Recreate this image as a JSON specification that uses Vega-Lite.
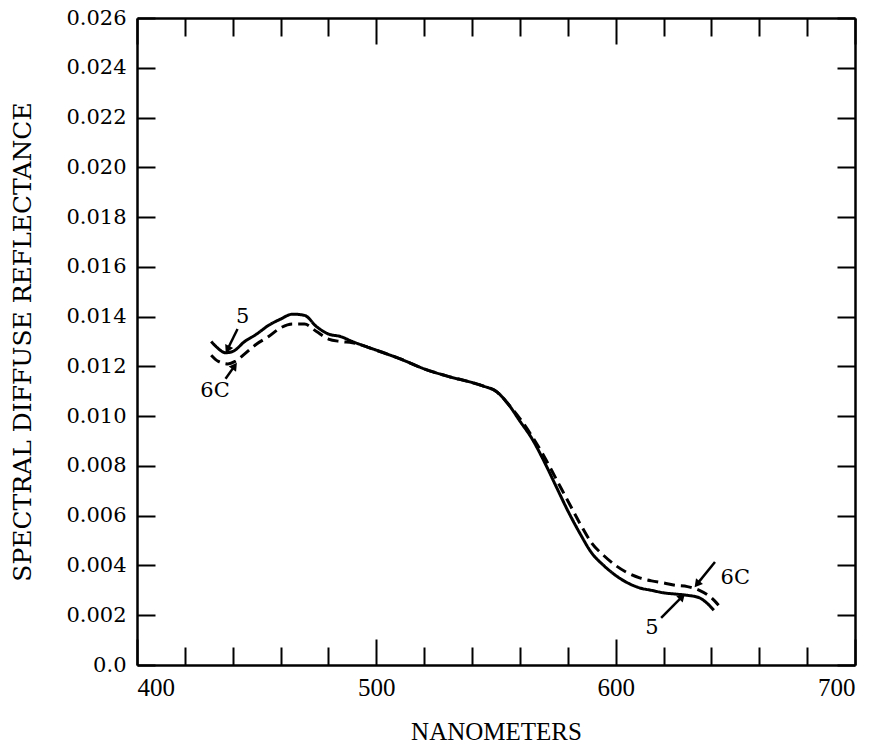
{
  "$schema": "https://vega.github.io/schema/vega-lite/v6.json",
  "width": 718,
  "height": 647,
  "autosize": {"type": "none"},
  "padding": {"left": 137, "top": 18, "right": 30, "bottom": 84},
  "background": "white",
  "config": {
    "view": {"stroke": null},
    "font": "DejaVu Serif",
    "axis": {"domainColor": "black", "domainWidth": 2.5, "tickColor": "black", "tickWidth": 2, "labelColor": "black", "titleColor": "black", "labelFont": "DejaVu Serif", "titleFont": "DejaVu Serif", "titleFontWeight": "normal", "grid": false}
  },
  "datasets": {
    "curves": [
      {"nm": 431, "r": 0.0130, "sample": "5"},
      {"nm": 433, "r": 0.0128, "sample": "5"},
      {"nm": 437, "r": 0.01255, "sample": "5"},
      {"nm": 440, "r": 0.0126, "sample": "5"},
      {"nm": 445, "r": 0.0130, "sample": "5"},
      {"nm": 450, "r": 0.0133, "sample": "5"},
      {"nm": 455, "r": 0.01365, "sample": "5"},
      {"nm": 460, "r": 0.0139, "sample": "5"},
      {"nm": 465, "r": 0.0141, "sample": "5"},
      {"nm": 470, "r": 0.01405, "sample": "5"},
      {"nm": 475, "r": 0.0136, "sample": "5"},
      {"nm": 480, "r": 0.0133, "sample": "5"},
      {"nm": 485, "r": 0.0132, "sample": "5"},
      {"nm": 490, "r": 0.0130, "sample": "5"},
      {"nm": 500, "r": 0.01265, "sample": "5"},
      {"nm": 510, "r": 0.0123, "sample": "5"},
      {"nm": 520, "r": 0.0119, "sample": "5"},
      {"nm": 530, "r": 0.0116, "sample": "5"},
      {"nm": 540, "r": 0.01135, "sample": "5"},
      {"nm": 545, "r": 0.0112, "sample": "5"},
      {"nm": 550, "r": 0.0110, "sample": "5"},
      {"nm": 555, "r": 0.0105, "sample": "5"},
      {"nm": 560, "r": 0.0098, "sample": "5"},
      {"nm": 565, "r": 0.0091, "sample": "5"},
      {"nm": 570, "r": 0.0082, "sample": "5"},
      {"nm": 575, "r": 0.0072, "sample": "5"},
      {"nm": 580, "r": 0.0062, "sample": "5"},
      {"nm": 585, "r": 0.0053, "sample": "5"},
      {"nm": 590, "r": 0.0045, "sample": "5"},
      {"nm": 595, "r": 0.0040, "sample": "5"},
      {"nm": 600, "r": 0.0036, "sample": "5"},
      {"nm": 605, "r": 0.0033, "sample": "5"},
      {"nm": 610, "r": 0.0031, "sample": "5"},
      {"nm": 615, "r": 0.0030, "sample": "5"},
      {"nm": 620, "r": 0.0029, "sample": "5"},
      {"nm": 625, "r": 0.00285, "sample": "5"},
      {"nm": 630, "r": 0.0028, "sample": "5"},
      {"nm": 635, "r": 0.0027, "sample": "5"},
      {"nm": 638, "r": 0.0025, "sample": "5"},
      {"nm": 641, "r": 0.0022, "sample": "5"},
      {"nm": 431, "r": 0.01245, "sample": "6C"},
      {"nm": 434, "r": 0.0122, "sample": "6C"},
      {"nm": 438, "r": 0.0121, "sample": "6C"},
      {"nm": 441, "r": 0.0122, "sample": "6C"},
      {"nm": 445, "r": 0.0125, "sample": "6C"},
      {"nm": 450, "r": 0.0129, "sample": "6C"},
      {"nm": 455, "r": 0.0132, "sample": "6C"},
      {"nm": 460, "r": 0.01355, "sample": "6C"},
      {"nm": 465, "r": 0.0137, "sample": "6C"},
      {"nm": 470, "r": 0.0137, "sample": "6C"},
      {"nm": 475, "r": 0.0134, "sample": "6C"},
      {"nm": 480, "r": 0.0131, "sample": "6C"},
      {"nm": 485, "r": 0.0130, "sample": "6C"},
      {"nm": 490, "r": 0.01295, "sample": "6C"},
      {"nm": 500, "r": 0.01265, "sample": "6C"},
      {"nm": 510, "r": 0.0123, "sample": "6C"},
      {"nm": 520, "r": 0.0119, "sample": "6C"},
      {"nm": 530, "r": 0.0116, "sample": "6C"},
      {"nm": 540, "r": 0.01135, "sample": "6C"},
      {"nm": 545, "r": 0.0112, "sample": "6C"},
      {"nm": 550, "r": 0.0110, "sample": "6C"},
      {"nm": 555, "r": 0.0105, "sample": "6C"},
      {"nm": 560, "r": 0.0099, "sample": "6C"},
      {"nm": 565, "r": 0.0092, "sample": "6C"},
      {"nm": 570, "r": 0.0084, "sample": "6C"},
      {"nm": 575, "r": 0.0075, "sample": "6C"},
      {"nm": 580, "r": 0.0066, "sample": "6C"},
      {"nm": 585, "r": 0.0057, "sample": "6C"},
      {"nm": 590, "r": 0.0049, "sample": "6C"},
      {"nm": 595, "r": 0.0044, "sample": "6C"},
      {"nm": 600, "r": 0.0040, "sample": "6C"},
      {"nm": 605, "r": 0.0037, "sample": "6C"},
      {"nm": 610, "r": 0.0035, "sample": "6C"},
      {"nm": 615, "r": 0.00338, "sample": "6C"},
      {"nm": 620, "r": 0.0033, "sample": "6C"},
      {"nm": 625, "r": 0.0032, "sample": "6C"},
      {"nm": 630, "r": 0.00315, "sample": "6C"},
      {"nm": 635, "r": 0.0030, "sample": "6C"},
      {"nm": 640, "r": 0.0027, "sample": "6C"},
      {"nm": 643, "r": 0.0024, "sample": "6C"}
    ],
    "arrows": [
      {"x": 442.0, "y": 0.01350, "x2": 437.8, "y2": 0.01268},
      {"x": 437.0, "y": 0.01150, "x2": 440.8, "y2": 0.01202},
      {"x": 641.5, "y": 0.00414, "x2": 634.0, "y2": 0.00325},
      {"x": 619.0, "y": 0.00189, "x2": 627.8, "y2": 0.00275}
    ],
    "labels": [
      {"x": 444.2, "y": 0.01400, "text": "5"},
      {"x": 432.6, "y": 0.01100, "text": "6C"},
      {"x": 650.0, "y": 0.00350, "text": "6C"},
      {"x": 615.2, "y": 0.00150, "text": "5"}
    ]
  },
  "resolve": {"axis": {"x": "independent", "y": "independent"}},
  "layer": [
    {
      "data": {"name": "curves"},
      "mark": {"type": "line", "interpolate": "monotone", "strokeWidth": 3, "color": "black"},
      "encoding": {
        "x": {"field": "nm", "type": "quantitative", "scale": {"domain": [400, 700], "nice": false},
          "axis": {"orient": "bottom", "title": "NANOMETERS", "titleFont": "Liberation Serif", "titleFontSize": 25, "titlePadding": 19,
            "values": [400, 420, 440, 460, 480, 500, 520, 540, 560, 580, 600, 620, 640, 660, 680, 700],
            "labelExpr": "datum.value % 100 === 0 ? datum.label : ''", "labelFont": "Liberation Serif", "labelFontSize": 25, "labelPadding": 36,
            "tickSize": {"condition": {"test": "datum.value % 100 === 0", "value": -26}, "value": -18}}},
        "y": {"field": "r", "type": "quantitative", "scale": {"domain": [0, 0.026], "nice": false},
          "axis": {"orient": "left", "title": "SPECTRAL DIFFUSE REFLECTANCE", "titleFontSize": 25, "titlePadding": 30,
            "values": [0, 0.002, 0.004, 0.006, 0.008, 0.01, 0.012, 0.014, 0.016, 0.018, 0.02, 0.022, 0.024, 0.026],
            "labelExpr": "datum.value === 0 ? '0.0' : format(datum.value, '.3f')", "labelFontSize": 21, "labelPadding": 29,
            "tickSize": -18}},
        "detail": {"field": "sample"},
        "strokeDash": {"field": "sample", "type": "nominal", "scale": {"domain": ["5", "6C"], "range": [[1, 0], [11, 6]]}, "legend": null}
      }
    },
    {
      "data": {"name": "arrows"},
      "mark": {"type": "rule", "strokeWidth": 2.5, "color": "black"},
      "encoding": {
        "x": {"field": "x", "type": "quantitative",
          "axis": {"orient": "top", "title": null, "labels": false,
            "values": [400, 420, 440, 460, 480, 500, 520, 540, 560, 580, 600, 620, 640, 660, 680, 700],
            "tickSize": {"condition": {"test": "datum.value % 100 === 0", "value": -26}, "value": -18}}},
        "y": {"field": "y", "type": "quantitative",
          "axis": {"orient": "right", "title": null, "labels": false,
            "values": [0, 0.002, 0.004, 0.006, 0.008, 0.01, 0.012, 0.014, 0.016, 0.018, 0.02, 0.022, 0.024, 0.026],
            "tickSize": -18}},
        "x2": {"field": "x2"},
        "y2": {"field": "y2"}
      }
    },
    {
      "data": {"name": "arrows"},
      "transform": [{"calculate": "atan2((datum.x2 - datum.x) * 2.393, (datum.y2 - datum.y) * 24880) * 180 / PI", "as": "ang"}],
      "mark": {"type": "point", "shape": "triangle-up", "filled": true, "color": "black", "size": 80, "opacity": 1},
      "encoding": {
        "x": {"field": "x2", "type": "quantitative", "axis": null},
        "y": {"field": "y2", "type": "quantitative", "axis": null},
        "angle": {"field": "ang", "type": "quantitative", "scale": null}
      }
    },
    {
      "data": {"name": "labels"},
      "mark": {"type": "text", "font": "DejaVu Serif", "fontSize": 21, "color": "black", "align": "center", "baseline": "middle"},
      "encoding": {
        "x": {"field": "x", "type": "quantitative", "axis": null},
        "y": {"field": "y", "type": "quantitative", "axis": null},
        "text": {"field": "text"}
      }
    }
  ]
}
